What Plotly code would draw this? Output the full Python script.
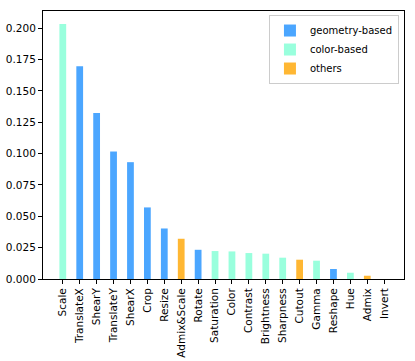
import plotly.graph_objects as go

# --- data ---
categories = ['Scale', 'TranslateX', 'ShearY', 'TranslateY', 'ShearX', 'Crop', 'Resize',
              'Admix&Scale', 'Rotate', 'Saturation', 'Color', 'Contrast', 'Brightness',
              'Sharpness', 'Cutout', 'Gamma', 'Reshape', 'Hue', 'Admix', 'Invert']
values = [0.2034, 0.1697, 0.1325, 0.1017, 0.0932, 0.0571, 0.0403,
          0.0321, 0.0233, 0.0223, 0.0220, 0.0207, 0.0202,
          0.0170, 0.0154, 0.0146, 0.0080, 0.0050, 0.0026, 0.0]
groups = ['color', 'geometry', 'geometry', 'geometry', 'geometry', 'geometry', 'geometry',
          'others', 'geometry', 'color', 'color', 'color', 'color',
          'color', 'others', 'color', 'geometry', 'color', 'others', 'color']
y_ticks = [0.0, 0.025, 0.05, 0.075, 0.1, 0.125, 0.15, 0.175, 0.2]

group_names = {'geometry': 'geometry-based', 'color': 'color-based', 'others': 'others'}
group_colors = {'geometry': '#4ba6ff', 'color': '#99ffdd', 'others': '#ffb733'}

fig = go.Figure()
for g in ['geometry', 'color', 'others']:
    idx = [i for i, gg in enumerate(groups) if gg == g]
    fig.add_trace(go.Bar(
        x=idx,
        y=[values[i] for i in idx],
        name=group_names[g],
        marker=dict(color=group_colors[g], line=dict(width=0)),
        width=0.4,
    ))

fig.update_layout(
    width=415, height=361,
    margin=dict(l=43, r=11, t=11, b=82),
    paper_bgcolor='white', plot_bgcolor='white',
    barmode='overlay',
    font=dict(family='DejaVu Sans', size=10, color='black'),
    showlegend=True,
    legend=dict(x=0.986, y=0.985, xanchor='right', yanchor='top',
                bordercolor='#cccccc', borderwidth=1, bgcolor='rgba(255,255,255,0.8)',
                font=dict(size=10), tracegroupgap=0, itemwidth=30),
)
fig.update_xaxes(
    range=[-1.17, 20.17], automargin=False,
    tickmode='array', tickvals=list(range(len(categories))), ticktext=categories,
    tickangle=-90, ticks='outside', ticklen=4, tickcolor='black',
    tickfont=dict(size=10.5),
    showline=True, linecolor='black', linewidth=1, mirror=True,
    showgrid=False, zeroline=False,
)
fig.update_yaxes(
    range=[0, 0.2138], automargin=False,
    tickmode='array', tickvals=y_ticks, ticktext=['%.3f' % t for t in y_ticks],
    ticks='outside', ticklen=4, tickcolor='black',
    tickfont=dict(size=10.5),
    showline=True, linecolor='black', linewidth=1, mirror=True,
    showgrid=False, zeroline=False,
)

# drop the browser's default 8px body margin so the figure fills the window
fig.write_html("out.html",
               config={'displayModeBar': False},
               post_script="document.body.style.margin='0';document.body.style.overflow='hidden';")
